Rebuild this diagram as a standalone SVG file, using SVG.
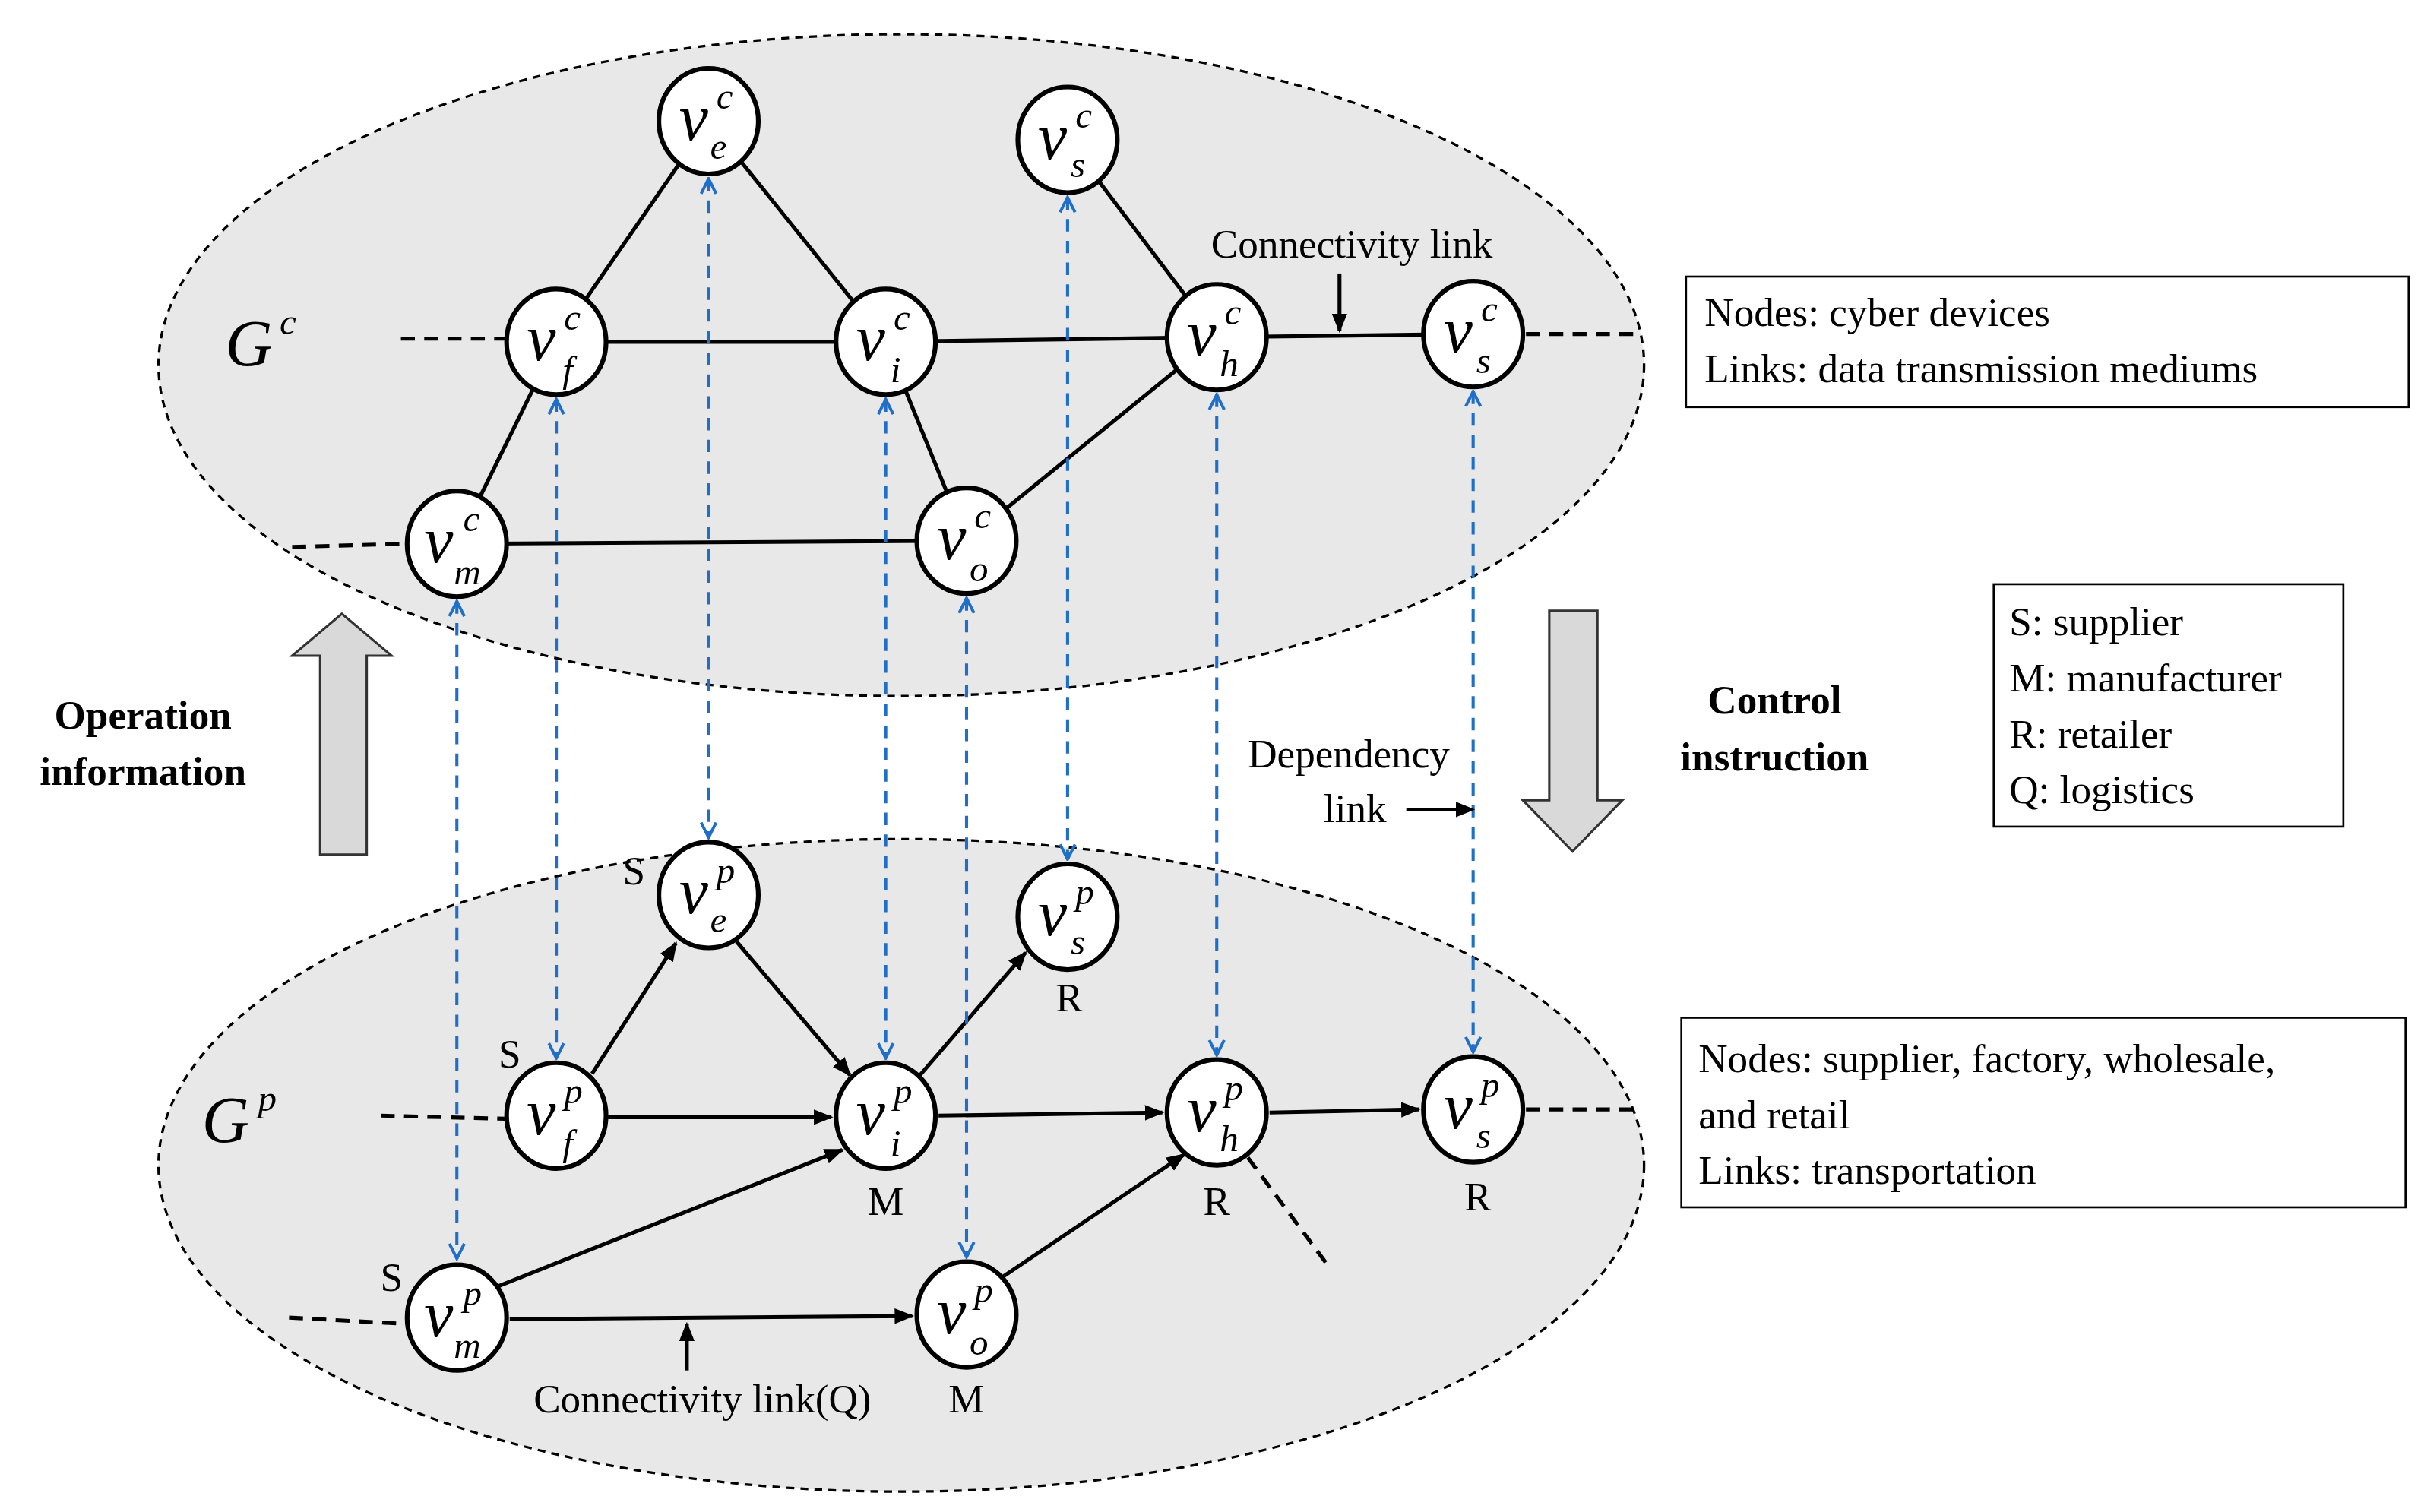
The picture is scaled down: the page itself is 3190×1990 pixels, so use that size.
<svg xmlns="http://www.w3.org/2000/svg" width="3190" height="1990" viewBox="0 0 3190 1990">
<defs>
<marker id="ab" viewBox="0 0 10 10" refX="9" refY="5" markerWidth="5" markerHeight="5" orient="auto-start-reverse" markerUnits="strokeWidth"><path d="M0,1 L10,5 L0,9 Z" fill="#000"/></marker>
<marker id="bl" viewBox="0 0 10 10" refX="9" refY="5" markerWidth="6" markerHeight="6" orient="auto-start-reverse" markerUnits="strokeWidth"><path d="M1,1 L9,5 L1,9" fill="none" stroke="#1f6fc8" stroke-width="1.6"/></marker>
</defs>
<style>
.ell{fill:#e8e8e8;stroke:#000;stroke-width:1.6;stroke-dasharray:5 4}
.e{stroke:#000;stroke-width:2.5;fill:none}
.ea{stroke:#000;stroke-width:2.5;fill:none;marker-end:url(#ab)}
.st{stroke:#000;stroke-width:2.5;stroke-dasharray:9 6;fill:none}
.dep{stroke:#1f6fc8;stroke-width:2;stroke-dasharray:8 6;fill:none;marker-start:url(#bl);marker-end:url(#bl)}
.n{fill:#fff;stroke:#000;stroke-width:3}
.v{font-family:"Liberation Serif",serif;font-style:italic;font-size:42px}
.s{font-family:"Liberation Serif",serif;font-style:italic;font-size:24px}
.t{font-family:"Liberation Serif",serif;font-size:26px}
.b{font-family:"Liberation Serif",serif;font-size:26px;font-weight:bold}
.box{fill:#fff;stroke:#000;stroke-width:1.3}
.arr{fill:#d9d9d9;stroke:#333;stroke-width:1.5}
</style>
<rect width="3190" height="1990" fill="#fff"/>
<g transform="scale(2.045)">
<ellipse class="ell" cx="580" cy="235" rx="478" ry="213"/>
<ellipse class="ell" cx="580" cy="750" rx="478" ry="210"/>
<g id="connectors">
<line class="e" x1="456" y1="78" x2="358" y2="220"/>
<line class="e" x1="456" y1="78" x2="570" y2="220"/>
<line class="e" x1="358" y1="220" x2="570" y2="220"/>
<line class="e" x1="358" y1="220" x2="294" y2="350"/>
<line class="e" x1="570" y1="220" x2="622" y2="348"/>
<line class="e" x1="570" y1="220" x2="783" y2="217"/>
<line class="e" x1="687" y1="90" x2="783" y2="217"/>
<line class="e" x1="783" y1="217" x2="948" y2="215"/>
<line class="e" x1="783" y1="217" x2="622" y2="348"/>
<line class="e" x1="294" y1="350" x2="622" y2="348"/>
<line class="st" x1="258" y1="218" x2="325" y2="218"/>
<line class="st" x1="188" y1="352" x2="260" y2="350"/>
<line class="st" x1="982" y1="215" x2="1055" y2="215"/>
<line class="ea" x1="381" y1="691" x2="435" y2="607"/>
<line class="ea" x1="474" y1="606" x2="547" y2="692"/>
<line class="ea" x1="391" y1="719" x2="535" y2="719"/>
<line class="ea" x1="592" y1="692" x2="660" y2="613"/>
<line class="ea" x1="604" y1="718" x2="748" y2="716"/>
<line class="ea" x1="817" y1="716" x2="913" y2="714"/>
<line class="ea" x1="320" y1="828" x2="542" y2="740"/>
<line class="ea" x1="328" y1="849" x2="587" y2="847"/>
<line class="ea" x1="645" y1="822" x2="762" y2="743"/>
<line class="st" x1="803" y1="745" x2="855" y2="815"/>
<line class="st" x1="245" y1="718" x2="325" y2="720"/>
<line class="st" x1="186" y1="848" x2="260" y2="852"/>
<line class="st" x1="982" y1="714" x2="1055" y2="714"/>
<line class="dep" x1="294" y1="387" x2="294" y2="810"/>
<line class="dep" x1="358" y1="257" x2="358" y2="681"/>
<line class="dep" x1="456" y1="115" x2="456" y2="539"/>
<line class="dep" x1="570" y1="257" x2="570" y2="681"/>
<line class="dep" x1="622" y1="385" x2="622" y2="809"/>
<line class="dep" x1="687" y1="127" x2="687" y2="553"/>
<line class="dep" x1="783" y1="254" x2="783" y2="679"/>
<line class="dep" x1="948" y1="252" x2="948" y2="677"/>
<line class="ea" x1="862" y1="176" x2="862" y2="213"/>
<line class="ea" x1="442" y1="882" x2="442" y2="852"/>
<line class="ea" x1="905" y1="521" x2="948" y2="521"/>
</g>
<g id="cv_e"><ellipse class="n" cx="456" cy="78" rx="32" ry="34"/><text class="v" x="437" y="90">v</text><text class="s" x="461" y="70">c</text><text class="s" x="457" y="102">e</text></g>
<g id="cv_s1"><ellipse class="n" cx="687" cy="90" rx="32" ry="34"/><text class="v" x="668" y="102">v</text><text class="s" x="692" y="82">c</text><text class="s" x="689" y="114">s</text></g>
<g id="cv_f"><ellipse class="n" cx="358" cy="220" rx="32" ry="34"/><text class="v" x="339" y="232">v</text><text class="s" x="363" y="212">c</text><text class="s" x="362" y="246">f</text></g>
<g id="cv_i"><ellipse class="n" cx="570" cy="220" rx="32" ry="34"/><text class="v" x="551" y="232">v</text><text class="s" x="575" y="212">c</text><text class="s" x="573" y="246">i</text></g>
<g id="cv_h"><ellipse class="n" cx="783" cy="217" rx="32" ry="34"/><text class="v" x="764" y="229">v</text><text class="s" x="788" y="209">c</text><text class="s" x="785" y="242">h</text></g>
<g id="cv_s2"><ellipse class="n" cx="948" cy="215" rx="32" ry="34"/><text class="v" x="929" y="227">v</text><text class="s" x="953" y="207">c</text><text class="s" x="950" y="240">s</text></g>
<g id="cv_m"><ellipse class="n" cx="294" cy="350" rx="32" ry="34"/><text class="v" x="273" y="362">v</text><text class="s" x="298" y="342">c</text><text class="s" x="292" y="376">m</text></g>
<g id="cv_o"><ellipse class="n" cx="622" cy="348" rx="32" ry="34"/><text class="v" x="603" y="360">v</text><text class="s" x="627" y="340">c</text><text class="s" x="624" y="374">o</text></g>
<g id="pv_e"><ellipse class="n" cx="456" cy="576" rx="32" ry="34"/><text class="v" x="437" y="588">v</text><text class="s" x="461" y="568">p</text><text class="s" x="457" y="600">e</text></g>
<g id="pv_s1"><ellipse class="n" cx="687" cy="590" rx="32" ry="34"/><text class="v" x="668" y="602">v</text><text class="s" x="692" y="582">p</text><text class="s" x="689" y="614">s</text></g>
<g id="pv_f"><ellipse class="n" cx="358" cy="718" rx="32" ry="34"/><text class="v" x="339" y="730">v</text><text class="s" x="363" y="710">p</text><text class="s" x="362" y="744">f</text></g>
<g id="pv_i"><ellipse class="n" cx="570" cy="718" rx="32" ry="34"/><text class="v" x="551" y="730">v</text><text class="s" x="575" y="710">p</text><text class="s" x="573" y="744">i</text></g>
<g id="pv_h"><ellipse class="n" cx="783" cy="716" rx="32" ry="34"/><text class="v" x="764" y="728">v</text><text class="s" x="788" y="708">p</text><text class="s" x="785" y="741">h</text></g>
<g id="pv_s2"><ellipse class="n" cx="948" cy="714" rx="32" ry="34"/><text class="v" x="929" y="726">v</text><text class="s" x="953" y="706">p</text><text class="s" x="950" y="739">s</text></g>
<g id="pv_m"><ellipse class="n" cx="294" cy="848" rx="32" ry="34"/><text class="v" x="273" y="860">v</text><text class="s" x="298" y="840">p</text><text class="s" x="292" y="874">m</text></g>
<g id="pv_o"><ellipse class="n" cx="622" cy="846" rx="32" ry="34"/><text class="v" x="603" y="858">v</text><text class="s" x="627" y="838">p</text><text class="s" x="624" y="872">o</text></g>
<text class="v" x="145" y="235">G</text><text class="s" x="180" y="215">c</text>
<text class="v" x="130" y="735">G</text><text class="s" x="166" y="715">p</text>
<g class="t" text-anchor="middle">
<text x="870" y="166">Connectivity link</text>
<text x="452" y="909">Connectivity link(Q)</text>
<text x="408" y="569">S</text><text x="328" y="687">S</text><text x="252" y="831">S</text>
<text x="570" y="782">M</text><text x="622" y="909">M</text>
<text x="688" y="651">R</text><text x="783" y="782">R</text><text x="951" y="779">R</text>
<text x="868" y="494">Dependency</text><text x="872" y="529">link</text>
</g>
<g class="b" text-anchor="middle">
<text x="92" y="469">Operation</text><text x="92" y="505">information</text>
<text x="1142" y="459">Control</text><text x="1142" y="496">instruction</text>
</g>
<path class="arr" d="M206,550 L206,422 L188,422 L220,395 L252,422 L236,422 L236,550 Z"/>
<path class="arr" d="M997,393 L1028,393 L1028,515 L1044,515 L1012,548 L980,515 L997,515 Z"/>
<g id="box1"><rect class="box" x="1085" y="178" width="465" height="84"/><text class="t" x="1097" y="210">Nodes: cyber devices</text><text class="t" x="1097" y="246">Links: data transmission mediums</text></g>
<g id="box2"><rect class="box" x="1283" y="376" width="225" height="156"/><text class="t" x="1293" y="409">S: supplier</text><text class="t" x="1293" y="445">M: manufacturer</text><text class="t" x="1293" y="481">R: retailer</text><text class="t" x="1293" y="517">Q: logistics</text></g>
<g id="box3"><rect class="box" x="1082" y="655" width="466" height="122"/><text class="t" x="1093" y="690">Nodes: supplier, factory, wholesale,</text><text class="t" x="1093" y="726">and retail</text><text class="t" x="1093" y="762">Links: transportation</text></g>
</g>
</svg>
